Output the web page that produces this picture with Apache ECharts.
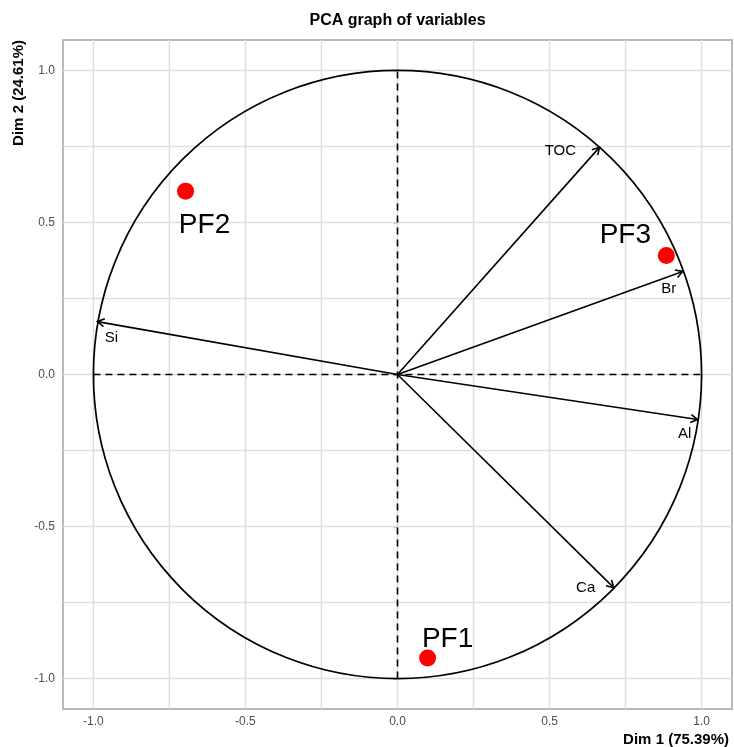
<!DOCTYPE html>
<html><head><meta charset="utf-8">
<script src="https://cdn.jsdelivr.net/npm/echarts@6/dist/echarts.min.js"></script>
<style>html,body{margin:0;padding:0;background:#fff}#c{width:734px;height:747px}</style>
</head><body><div id="c"></div>
<script>
// ---- data ----
const variableNames = ['TOC', 'Br', 'Al', 'Ca', 'Si'];
const varDim1 = [0.664, 0.938, 0.987, 0.711, -0.987];
const varDim2 = [0.747, 0.339, -0.148, -0.701, 0.174];
const pointNames = ['PF1', 'PF2', 'PF3'];
const pointDim1 = [0.099, -0.697, 0.884];
const pointDim2 = [-0.932, 0.603, 0.391];
const majorTicks = [-1.0, -0.5, 0.0, 0.5, 1.0];
const minorTicks = [-0.75, -0.25, 0.25, 0.75];
const axisMin = -1.1, axisMax = 1.1;
const titleText = 'PCA graph of variables';
const xName = 'Dim 1 (75.39%)';
const yName = 'Dim 2 (24.61%)';

// ---- layout (pixel offsets for labels) ----
const varLabelOffsets = [[-39, 4], [-14, 17], [-13, 14], [-28, 0], [14, 16]];
const pointLabelOffsets = [[20, -19], [19, 34], [-41, -20]];

const FONT = '"Liberation Sans", Arial, sans-serif';
const GRID_COLOR = '#dedede';
const gridValues = majorTicks.concat(minorTicks);

const chart = echarts.init(document.getElementById('c'), null, {renderer: 'canvas'});

const axisCommon = {
  type: 'value', min: axisMin, max: axisMax,
  splitLine: {show: false},
  axisLine: {show: false},
  axisTick: {show: true, customValues: majorTicks, length: 4, lineStyle: {color: '#aaaaaa', width: 1.5}},
  axisLabel: {customValues: majorTicks, formatter: v => Number(v).toFixed(1), color: '#4d4d4d', fontSize: 12, fontFamily: FONT}
};

const option = {
  animation: false,
  backgroundColor: '#fff',
  grid: {left: 63, right: 2, top: 40, bottom: 38, show: true, borderColor: '#b8b8b8', borderWidth: 2, backgroundColor: 'transparent'},
  xAxis: Object.assign({}, axisCommon, {axisLabel: Object.assign({}, axisCommon.axisLabel, {margin: 7})}),
  yAxis: Object.assign({}, axisCommon, {axisLabel: Object.assign({}, axisCommon.axisLabel, {margin: 8})}),
  graphic: [
    {type: 'text', x: 397.5, y: 21, style: {text: titleText, textAlign: 'center', textVerticalAlign: 'middle', font: 'bold 16px ' + FONT, fill: '#000'}},
    {type: 'text', x: 729, y: 740, style: {text: xName, textAlign: 'right', textVerticalAlign: 'middle', font: 'bold 15px ' + FONT, fill: '#000'}},
    {type: 'text', x: 19, y: 40, rotation: Math.PI / 2, style: {text: yName, textAlign: 'right', textVerticalAlign: 'middle', font: 'bold 15px ' + FONT, fill: '#000'}}
  ],
  series: [
    { // vertical grid lines
      type: 'custom', z: 1, silent: true,
      data: gridValues.map(v => [v, 0]),
      renderItem: (params, api) => {
        const cs = params.coordSys;
        const x = api.coord([api.value(0), 0])[0];
        return {type: 'line', shape: {x1: x, y1: cs.y, x2: x, y2: cs.y + cs.height}, style: {stroke: GRID_COLOR, lineWidth: 1.5}};
      }
    },
    { // horizontal grid lines
      type: 'custom', z: 1, silent: true,
      data: gridValues.map(v => [0, v]),
      renderItem: (params, api) => {
        const cs = params.coordSys;
        const y = api.coord([0, api.value(1)])[1];
        return {type: 'line', shape: {x1: cs.x, y1: y, x2: cs.x + cs.width, y2: y}, style: {stroke: GRID_COLOR, lineWidth: 1.5}};
      }
    },
    { // dashed reference lines
      type: 'line', z: 3, silent: true, symbol: 'none',
      data: [[majorTicks[0], 0], [majorTicks[majorTicks.length - 1], 0]],
      lineStyle: {color: '#000', width: 1.6, type: [7, 5]}
    },
    {
      type: 'line', z: 3, silent: true, symbol: 'none',
      data: [[0, majorTicks[0]], [0, majorTicks[majorTicks.length - 1]]],
      lineStyle: {color: '#000', width: 1.6, type: [7, 5]}
    },
    { // correlation circle
      type: 'custom', z: 3, silent: true,
      data: [[0, 0, 1]],
      renderItem: (params, api) => {
        const c = api.coord([api.value(0), api.value(1)]);
        const e = api.coord([api.value(0) + api.value(2), api.value(1)]);
        return {type: 'circle', shape: {cx: c[0], cy: c[1], r: e[0] - c[0]}, style: {fill: 'none', stroke: '#000', lineWidth: 1.7}};
      }
    },
    { // variable arrows
      type: 'custom', z: 4, silent: true,
      data: varDim1.map((x, i) => [x, varDim2[i]]),
      renderItem: (params, api) => {
        const o = api.coord([0, 0]);
        const p = api.coord([api.value(0), api.value(1)]);
        const ang = Math.atan2(p[1] - o[1], p[0] - o[0]);
        const L = 8, A = Math.PI / 6;
        const h1 = [p[0] - L * Math.cos(ang - A), p[1] - L * Math.sin(ang - A)];
        const h2 = [p[0] - L * Math.cos(ang + A), p[1] - L * Math.sin(ang + A)];
        const off = varLabelOffsets[params.dataIndex];
        return {type: 'group', children: [
          {type: 'line', shape: {x1: o[0], y1: o[1], x2: p[0], y2: p[1]}, style: {stroke: '#000', lineWidth: 1.6}},
          {type: 'polyline', shape: {points: [h1, p, h2]}, style: {stroke: '#000', lineWidth: 1.6, fill: 'none'}},
          {type: 'text', x: p[0] + off[0], y: p[1] + off[1], style: {text: variableNames[params.dataIndex], textAlign: 'center', textVerticalAlign: 'middle', font: '15px ' + FONT, fill: '#000'}}
        ]};
      }
    },
    { // supplementary points
      type: 'scatter', z: 5, silent: true,
      symbol: 'circle', symbolSize: 17,
      itemStyle: {color: '#ff0000', opacity: 1},
      data: pointDim1.map((x, i) => ({name: pointNames[i], value: [x, pointDim2[i]], label: {offset: pointLabelOffsets[i]}})),
      label: {show: true, position: 'inside', formatter: '{b}', fontSize: 28, fontFamily: FONT, color: '#000', opacity: 1}
    }
  ]
};
chart.setOption(option);
</script>
</body></html>
